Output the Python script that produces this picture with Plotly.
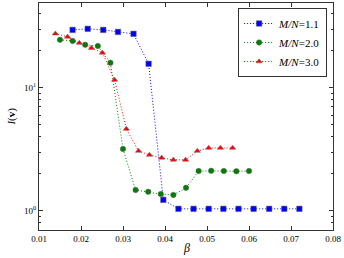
import plotly.graph_objects as go

beta_11 = [0.018, 0.0216, 0.0253, 0.0288, 0.0325, 0.0361, 0.0396, 0.0432, 0.0468, 0.0504,
           0.0539, 0.0575, 0.0611, 0.0648, 0.0684, 0.0720]
I_11 = [29.6, 30.2, 29.6, 28.5, 27.5, 15.7, 1.23, 1.04, 1.04, 1.04, 1.04, 1.04, 1.04, 1.04, 1.04, 1.04]

beta_20 = [0.015, 0.018, 0.021, 0.024, 0.027, 0.030, 0.033, 0.036, 0.039, 0.042, 0.045,
           0.048, 0.051, 0.054, 0.057, 0.060]
I_20 = [24.6, 24.1, 22.4, 21.9, 16.0, 3.19, 1.48, 1.43, 1.37, 1.35, 1.54, 2.11, 2.12, 2.11, 2.10, 2.11]

beta_30 = [0.0139, 0.0168, 0.0196, 0.0225, 0.0251, 0.0280, 0.0308, 0.0337, 0.0363, 0.0392,
           0.0420, 0.0449, 0.0477, 0.0504, 0.0532, 0.0561]
I_30 = [27.6, 26.0, 23.2, 21.1, 19.3, 11.6, 4.64, 3.07, 2.85, 2.70, 2.60, 2.60, 3.07, 3.25, 3.25, 3.25]

labels = ["<i>M/N</i>=1.1", "<i>M/N</i>=2.0", "<i>M/N</i>=3.0"]
colors = ["#0000ff", "#007f00", "#ff0000"]
symbols = ["square", "circle", "triangle-up"]

xticks = [0.01, 0.02, 0.03, 0.04, 0.05, 0.06, 0.07, 0.08]
yticks = [1, 10]
yticktext = ["10<sup>0</sup>", "10<sup>1</sup>"]
yminor = [0.7, 0.8, 0.9, 2, 3, 4, 5, 6, 7, 8, 9, 20, 30, 40]

fig = go.Figure()
for xs, ys, lab, col, sym in zip([beta_11, beta_20, beta_30], [I_11, I_20, I_30], labels, colors, symbols):
    fig.add_trace(go.Scatter(
        x=xs, y=ys, name=lab, mode="lines+markers",
        line=dict(color=col, width=1, dash="1px,2px"),
        marker=dict(symbol=sym, size=5.5, color=col, line=dict(color="#666666", width=0.5)),
    ))

font = "Liberation Serif"
fig.update_layout(
    width=344, height=258,
    margin=dict(l=39, r=11, t=3, b=28),
    paper_bgcolor="white", plot_bgcolor="white",
    font=dict(family=font, size=9, color="black"),
    showlegend=True,
    legend=dict(x=0.98, y=0.978, xanchor="right", yanchor="top",
                bordercolor="#333333", borderwidth=1, bgcolor="white",
                font=dict(family=font, size=11), tracegroupgap=0, itemwidth=30),
    annotations=[
        dict(text="<i>β</i>", xref="paper", yref="paper", x=0.5, y=-0.08,
             xanchor="center", yanchor="middle", showarrow=False, font=dict(size=12)),
        dict(text="<i>I</i>(<b>v</b>)", xref="paper", yref="paper", x=-0.095, y=0.5,
             xanchor="center", yanchor="middle", textangle=-90, showarrow=False,
             font=dict(size=11)),
    ],
)
fig.update_xaxes(
    range=[0.01, 0.08], tickvals=xticks, ticktext=[f"{v:.2f}" for v in xticks],
    ticks="inside", ticklen=4, tickcolor="#333333", showgrid=False, zeroline=False,
    showline=True, linecolor="#333333", linewidth=1, mirror="ticks", automargin=False,
)
fig.update_yaxes(
    type="log", range=[-0.155, 1.69], tickvals=yticks, ticktext=yticktext,
    ticks="inside", ticklen=4, tickcolor="#333333", showgrid=False, zeroline=False,
    showline=True, linecolor="#333333", linewidth=1, mirror="ticks", automargin=False,
    minor=dict(tickvals=yminor, ticks="inside", ticklen=2, tickcolor="#333333", showgrid=False),
)
fig.write_html("out.html", config={"displayModeBar": False},
               post_script="document.body.style.margin='0';document.body.style.padding='0';")
